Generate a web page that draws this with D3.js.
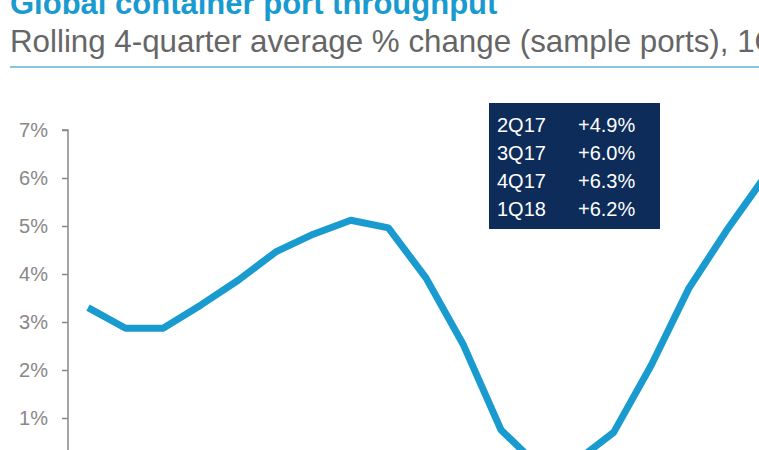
<!DOCTYPE html><html><head><meta charset="utf-8"><script src="https://cdn.jsdelivr.net/npm/d3@7"></script>
<style>body{margin:0;background:#fff}svg{display:block}</style></head><body><svg id="c" width="759" height="450"></svg>
<script>
const quarters=["1Q13","2Q13","3Q13","4Q13","1Q14","2Q14","3Q14","4Q14","1Q15","2Q15","3Q15","4Q15","1Q16","2Q16","3Q16","4Q16","1Q17","2Q17","3Q17","4Q17","1Q18"];
const values=[3.3,2.87,2.87,3.35,3.87,4.46,4.83,5.12,4.96,3.92,2.52,0.75,0.0,0.1,0.7,2.1,3.7,4.9,6.0,6.3,6.2];
const yTicks=[1,2,3,4,5,6,7];
const boxLabels=["2Q17","3Q17","4Q17","1Q18"];
const boxValues=["+4.9%","+6.0%","+6.3%","+6.2%"];
const svg=d3.select("#c");const F="Liberation Sans, Arial, sans-serif";
svg.append("text").attr("x",10).attr("y",14).attr("fill","#1a9bd0").attr("font-family",F).attr("font-weight","bold").attr("font-size",31).text("Global container port throughput");
svg.append("text").attr("x",10).attr("y",52).attr("fill","#666").attr("font-family",F).attr("font-size",31.3).text("Rolling 4-quarter average % change (sample ports), 1Q13–1Q18");
svg.append("line").attr("x1",10).attr("x2",759).attr("y1",67).attr("y2",67).attr("stroke","#5fb3d6").attr("stroke-width",1.5);
const x=d3.scalePoint().domain(quarters).range([88,88+37.55*20]);
const y=d3.scaleLinear().domain([0,7]).range([466,130]);
const ax=svg.append("g").attr("transform","translate(68,0)").call(d3.axisLeft(y).tickValues(yTicks).tickSize(6).tickFormat(d=>d+"%"));
ax.select(".domain").attr("d","M-6,130H0V470").attr("stroke","#888").attr("stroke-width",1.5);
ax.selectAll(".tick line").attr("stroke","#888").attr("stroke-width",1.5);
ax.selectAll(".tick text").attr("x",-20).attr("fill","#888").attr("font-family",F).attr("font-size",20);
svg.append("path").datum(values).attr("fill","none").attr("stroke","#1a9bd0").attr("stroke-width",7).attr("stroke-linejoin","round")
 .attr("d",d3.line().x((d,i)=>x(quarters[i])).y(d=>y(d)));
svg.append("rect").attr("x",489).attr("y",103).attr("width",171).attr("height",126).attr("fill","#0d2c5a");
boxLabels.forEach((l,i)=>{
 svg.append("text").attr("x",497).attr("y",132+i*28).attr("fill","#fff").attr("font-family",F).attr("font-size",20).text(l);
 svg.append("text").attr("x",578).attr("y",132+i*28).attr("fill","#fff").attr("font-family",F).attr("font-size",20).text(boxValues[i]);
});
</script></body></html>
